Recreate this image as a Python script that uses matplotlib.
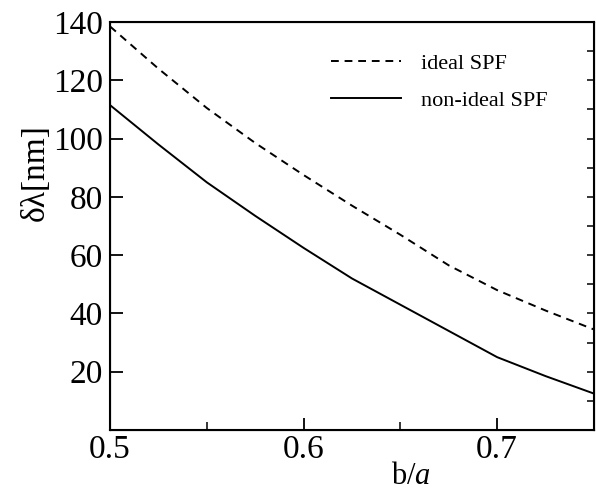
import numpy as np
import matplotlib
matplotlib.use("Agg")
import matplotlib.pyplot as plt
from matplotlib.ticker import MultipleLocator

plt.rcParams["font.family"] = ["Liberation Serif", "DejaVu Serif"]
plt.rcParams["mathtext.fontset"] = "custom"
plt.rcParams["mathtext.it"] = "Liberation Serif:italic"
plt.rcParams["mathtext.rm"] = "Liberation Serif"

# values
ratio = [0.5, 0.525, 0.55, 0.575, 0.6, 0.625, 0.65, 0.675, 0.7, 0.725, 0.75]
idealSPF = [138.5, 124, 110.5, 98.5, 87.5, 77, 67, 56.5, 48, 41, 34.5]
nonIdealSPF = [111.5, 98, 85, 73.5, 62.5, 52, 43, 34, 25, 18.5, 12.5]

fig = plt.figure(figsize=(5.96, 4.90), dpi=100)
ax = fig.add_axes([0.1846, 0.1224, 0.812, 0.8326])

ax.plot(ratio, idealSPF, "k--", lw=1.4, dashes=(4, 3), label="ideal SPF")
ax.plot(ratio, nonIdealSPF, "k-", lw=1.4, label="non-ideal SPF")

ax.set_xlim(0.5, 0.75)
ax.set_ylim(0, 140)
ax.xaxis.set_minor_locator(MultipleLocator(0.05))
ax.set_yticks(np.arange(20, 141, 20))
ax.set_xticks([0.5, 0.6, 0.7])
ax.set_xticklabels(["0.5", "0.6", "0.7"])

ax.tick_params(axis="both", which="major", direction="in", length=9, width=1.3,
               labelsize=24)
ax.tick_params(axis="x", which="major", pad=3)
ax.tick_params(axis="y", which="major", pad=5)
ax.tick_params(axis="x", which="minor", direction="in", length=6, width=1.1)
ax.tick_params(axis="y", which="minor", length=0)

for s in ax.spines.values():
    s.set_linewidth(1.5)

# short inward ticks on the right side
ax2 = ax.twinx()
ax2.set_ylim(0, 140)
ax2.yaxis.set_major_locator(MultipleLocator(10))
ax2.tick_params(axis="y", direction="in", length=5, width=1.1, labelright=False)

ax.set_ylabel("δλ[nm]", fontsize=24)
ax.yaxis.set_label_coords(-0.122, 0.632)
ax.set_xlabel("b/$a$", fontsize=22)
ax.xaxis.set_label_coords(0.622, -0.078)

ax.legend(loc="upper left", bbox_to_anchor=(0.415, 0.972), frameon=False,
          fontsize=16, handlelength=3.15, handletextpad=0.9, labelspacing=0.72)

fig.savefig("out.png", dpi=100)
